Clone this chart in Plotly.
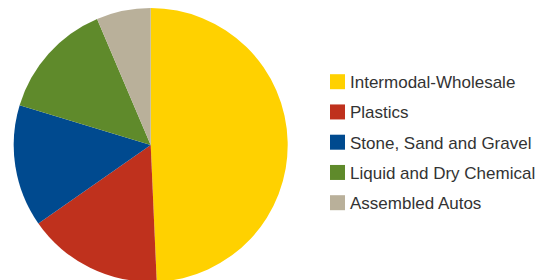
import plotly.graph_objects as go

categories = ["Intermodal-Wholesale", "Plastics", "Stone, Sand and Gravel",
              "Liquid and Dry Chemical", "Assembled Autos"]
shares = [49.3, 16.0, 14.4, 13.9, 6.4]
colors = ["#FFD100", "#BF311D", "#004A8F", "#5F8A2B", "#B9B09A"]

W, H = 548, 280

fig = go.Figure(go.Pie(
    labels=categories,
    values=shares,
    sort=False,
    direction="clockwise",
    rotation=0,
    marker=dict(colors=colors, line=dict(width=0)),
    textinfo="none",
    hoverinfo="label+percent",
    domain=dict(x=[0.0, 285.4 / W], y=[1 - 274 / H, 1.0]),
    showlegend=False,
))

# manual legend (pixel layout converted to paper fractions)
sq_x0, sq_size = 322, 15
text_x = 340
row0, step = 73.7, 30.25
shapes, annotations = [], []
for i, (lab, col) in enumerate(zip(categories, colors)):
    cy = row0 + i * step
    shapes.append(dict(
        type="rect", xref="paper", yref="paper",
        x0=sq_x0 / W, x1=(sq_x0 + sq_size) / W,
        y0=1 - (cy + sq_size / 2) / H, y1=1 - (cy - sq_size / 2) / H,
        fillcolor=col, line=dict(width=0),
    ))
    annotations.append(dict(
        text=lab, xref="paper", yref="paper",
        x=text_x / W, y=1 - (cy + 1) / H,
        xanchor="left", yanchor="middle", showarrow=False,
        font=dict(family="Liberation Sans", size=17, color="#333333"),
    ))

fig.update_layout(
    width=W, height=H,
    margin=dict(l=0, r=0, t=0, b=0),
    paper_bgcolor="white",
    showlegend=False,
    shapes=shapes,
    annotations=annotations,
)

fig.write_html("out.html")
